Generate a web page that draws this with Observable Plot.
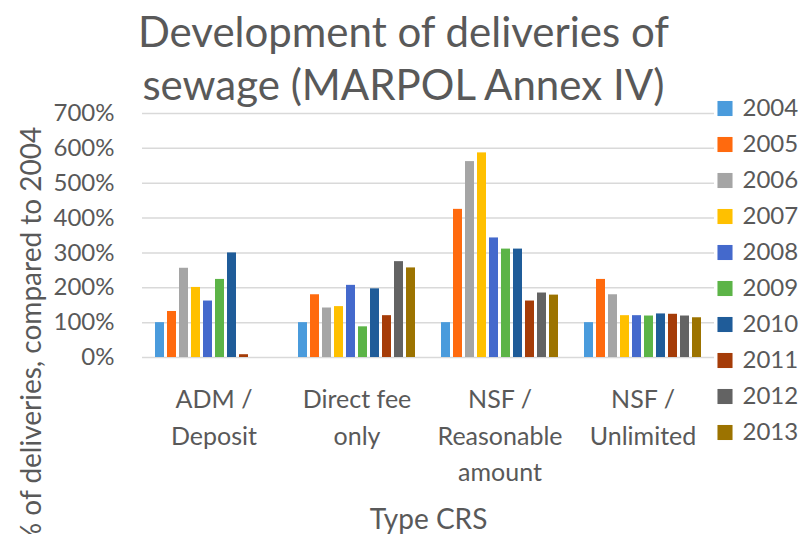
<!DOCTYPE html>
<html><head><meta charset="utf-8">
<script src="https://cdn.jsdelivr.net/npm/d3@7"></script>
<script src="https://cdn.jsdelivr.net/npm/@observablehq/plot@0.6"></script>
<style>
body{margin:0;background:#fff;}
#wrap{position:relative;width:803px;height:534px;overflow:hidden;font-family:Lato, sans-serif;color:#595959;background:#fff;}
#title{position:absolute;left:2px;top:5px;width:803px;text-align:center;font-size:42px;line-height:53px;white-space:nowrap;}
#ylab{position:absolute;left:30px;top:336px;transform:translate(-50%,-50%) rotate(-90deg);font-size:28px;white-space:nowrap;}
#chart{position:absolute;left:0;top:0;}
#legend{position:absolute;left:710px;top:80px;}
#chart svg, #legend svg{display:block;}
</style></head><body>
<div id="wrap">
<div id="chart"></div>
<div id="legend"></div>
<div id="title">Development of deliveries of<br>sewage (MARPOL Annex IV)</div>
<div id="ylab">% of deliveries, compared to 2004</div>
</div>
<script>
const categories = ["ADM /\nDeposit", "Direct fee\nonly", "NSF /\nReasonable\namount", "NSF /\nUnlimited"];
const years = ["2004","2005","2006","2007","2008","2009","2010","2011","2012","2013"];
const colors = ["#4a9bdc","#ff6a0e","#a5a5a5","#ffc000","#4469cc","#5cb447","#1f5c99","#a53c08","#636363","#9c7300"];
const admDeposit    = [100, 132, 256, 201, 162, 224, 300,   8,   0,   0];
const directFeeOnly = [100, 180, 142, 146, 207,  88, 197, 120, 275, 257];
const nsfReasonable = [100, 425, 562, 587, 343, 311, 311, 162, 185, 179];
const nsfUnlimited  = [100, 224, 180, 120, 120, 119, 125, 124, 119, 114];
const yTicks = [0, 100, 200, 300, 400, 500, 600, 700];

const series = [admDeposit, directFeeOnly, nsfReasonable, nsfUnlimited];
const data = [];
categories.forEach((c, i) => years.forEach((y, j) => data.push({category: c, year: y, value: series[i][j]})));

const chart = Plot.plot({
  width: 803, height: 534,
  marginLeft: 140, marginRight: 88, marginTop: 113, marginBottom: 177,
  style: {fontFamily: "Lato, sans-serif", fontSize: "24px", color: "#595959", background: "transparent"},
  fx: {domain: categories, padding: 0},
  x: {domain: years, axis: null, paddingInner: 0.24, paddingOuter: 0.75},
  y: {domain: [0, 700]},
  color: {domain: years, range: colors},
  marks: [
    Plot.gridY(yTicks, {stroke: "#d9d9d9", strokeOpacity: 1, strokeWidth: 1.5}),
    Plot.axisY(yTicks, {tickFormat: d => d + "%", tickSize: 0, tickPadding: 28, label: null, fontSize: 24}),
    Plot.barY(data, {fx: "category", x: "year", y: "value", fill: "year"}),
    Plot.axisFx({anchor: "bottom", tickSize: 0, tickPadding: 25, lineHeight: 1.46, fontSize: 25, label: null}),
    Plot.axisFx([], {anchor: "bottom", tickSize: 0, fontSize: 28, label: "Type CRS", labelAnchor: "center", labelOffset: 171, labelArrow: "none"})
  ]
});
document.getElementById("chart").appendChild(chart);

const legend = Plot.plot({
  width: 93, height: 380,
  margin: 0,
  style: {fontFamily: "Lato, sans-serif", fontSize: "24px", color: "#595959", background: "transparent"},
  y: {domain: years, type: "point", padding: 0, range: [24, 356], axis: null},
  color: {domain: years, range: colors},
  marks: [
    Plot.dot(years, {y: d => d, fill: d => d, symbol: "square", r: 8.5, frameAnchor: "left", dx: 14.5}),
    Plot.text(years, {y: d => d, text: d => d, frameAnchor: "left", dx: 32, textAnchor: "start", fill: "#595959", fontSize: 24})
  ]
});
document.getElementById("legend").appendChild(legend);
</script>
</body></html>
